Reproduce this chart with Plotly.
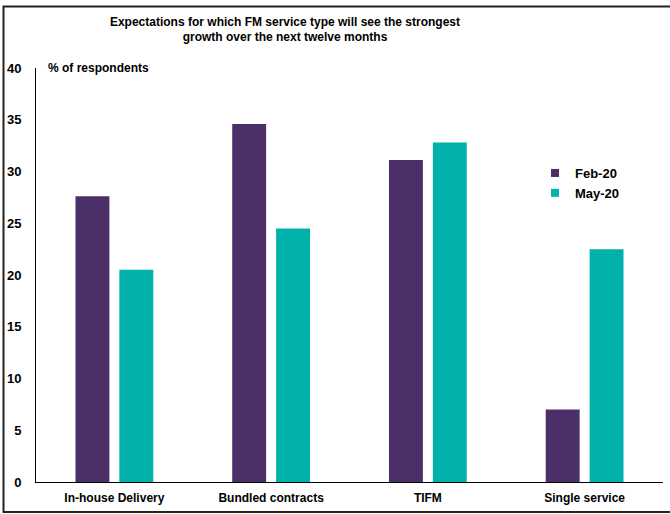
import plotly.graph_objects as go

categories = ["In-house Delivery", "Bundled contracts", "TIFM", "Single service"]
feb20 = [27.6, 34.6, 31.1, 7.0]
may20 = [20.5, 24.5, 32.8, 22.5]
series_names = ["Feb-20", "May-20"]
y_ticks = [0, 5, 10, 15, 20, 25, 30, 35, 40]
colors = ["#4B2F68", "#00B2A9"]

FONT = "Liberation Sans, Arial, sans-serif"
W, H = 670, 514
ml, mr, mt, mb = 36, 7, 68, 32
pw, ph = W - ml - mr, H - mt - mb

def px_x(x):
    return (x - ml) / pw

def px_y(y):
    return (H - mb - y) / ph

fig = go.Figure()
for name, vals, col in zip(series_names, [feb20, may20], colors):
    fig.add_trace(go.Bar(x=categories, y=vals, name=name, showlegend=False,
                         marker=dict(color=col, line=dict(width=0))))
for name, col in zip(series_names, colors):
    fig.add_trace(go.Scatter(x=[None], y=[None], mode="markers", name="<b>" + name + "</b>",
                             marker=dict(symbol="square", size=8, color=col)))

fig.update_layout(
    width=W, height=H,
    margin=dict(l=ml, r=mr, t=mt, b=mb, pad=0),
    paper_bgcolor="white", plot_bgcolor="white",
    barmode="group", bargap=0.44, bargroupgap=0.227,
    font=dict(family=FONT, size=12, color="black"),
    title=dict(text="<b>Expectations for which FM service type will see the strongest<br>growth over the next twelve months</b>",
               x=px_x(285), xref="paper", xanchor="center",
               y=1 - 25.5 / H, yref="container", yanchor="middle",
               font=dict(family=FONT, size=12, color="black")),
    showlegend=True,
    legend=dict(x=px_x(535), y=px_y(158), xanchor="left", yanchor="top",
                font=dict(family=FONT, size=13, color="black"),
                bgcolor="rgba(0,0,0,0)", itemwidth=30, tracegroupgap=0,
                traceorder="normal"),
    xaxis=dict(showline=True, linecolor="black", linewidth=1, ticks="",
               tickvals=categories, ticktext=["<b>" + c + "</b>" for c in categories],
               tickfont=dict(family=FONT, size=12, color="black"),
               ticklabelstandoff=5,
               showgrid=False, zeroline=False),
    yaxis=dict(range=[0, 40], tickvals=y_ticks, ticktext=["<b>%d</b>" % v for v in y_ticks],
               showline=True, linecolor="black",
               linewidth=1, ticks="", showgrid=False, zeroline=False,
               tickfont=dict(family=FONT, size=13, color="black"),
               ticklabelstandoff=11),
    annotations=[dict(text="<b>% of respondents</b>", x=px_x(46), y=1.0,
                      xref="paper", yref="paper", xanchor="left", yanchor="middle",
                      showarrow=False, font=dict(family=FONT, size=12, color="black"))],
    shapes=[dict(type="rect", xref="paper", yref="paper",
                 x0=px_x(3.5), x1=px_x(675), y0=px_y(512), y1=px_y(6.5),
                 line=dict(color="#222222", width=2), fillcolor="rgba(0,0,0,0)",
                 layer="below")],
)

fig.write_html("out.html", config={"displayModeBar": False},
               post_script="document.body.style.margin='0';document.body.style.overflow='hidden';")
